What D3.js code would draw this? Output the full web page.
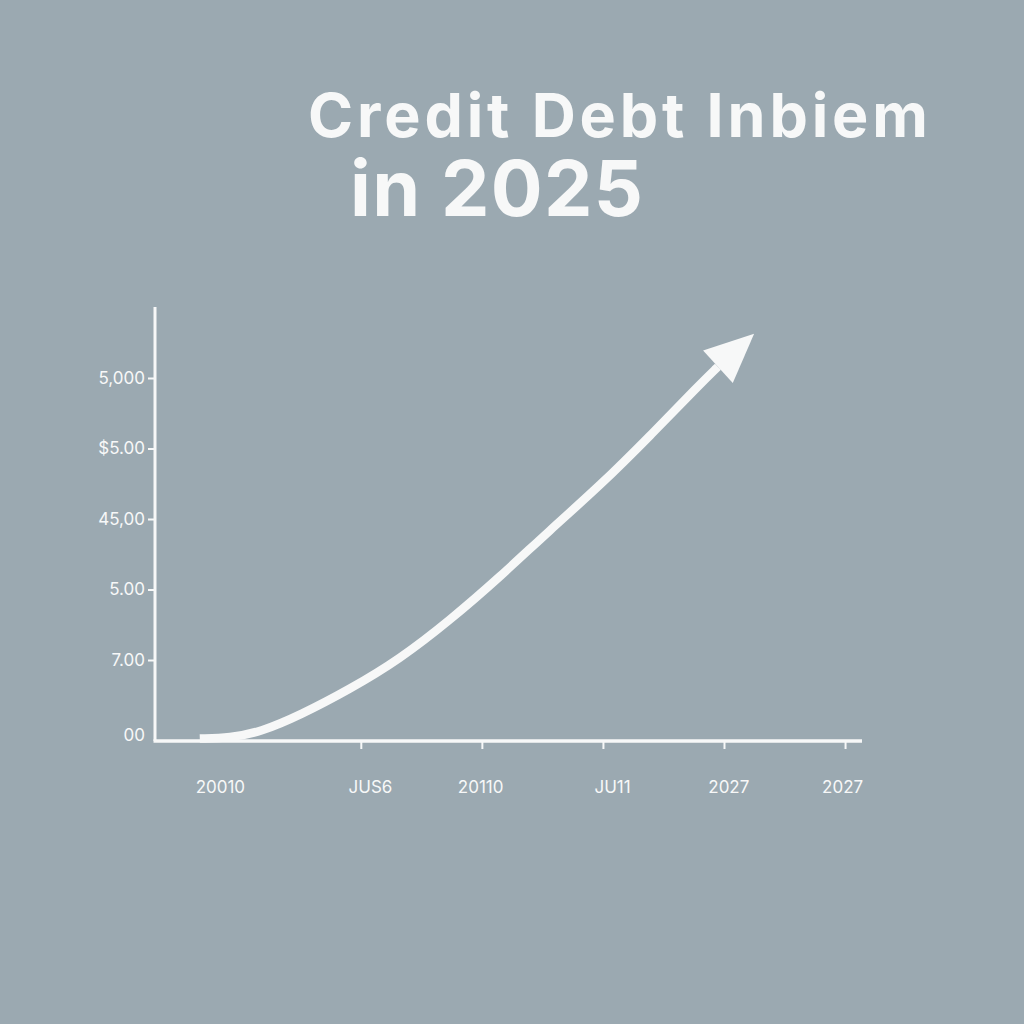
<!DOCTYPE html>
<html>
<head>
<meta charset="utf-8">
<script src="https://cdn.jsdelivr.net/npm/d3@7"></script>
<style>
  html, body { margin: 0; padding: 0; background: #9ba9b1; }
  svg { display: block; }
</style>
</head>
<body>
<svg id="chart" width="1024" height="1024"></svg>
<script>
// ---- data ----
const titleLines = ["Credit Debt Inbiem", "in 2025"];
const yTickValues = [0, 1, 2, 3, 4, 5];
const yTickLabels = ["00", "7.00", "5.00", "45,00", "$5.00", "5,000"];
const xTickValues = [1.7, 2.7, 3.7, 4.7, 5.7];
const xLabelValues = [0.54, 1.78, 2.69, 3.78, 4.74, 5.68];
const xLabels = ["20010", "JUS6", "20110", "JU11", "2027", "2027"];
const curveX = [0.37, 0.62, 0.87, 1.20, 1.61, 2.02, 2.44, 2.85, 3.26, 3.68, 4.09, 4.50, 4.65];
const curveY = [0.03, 0.04, 0.11, 0.32, 0.64, 1.01, 1.57, 2.18, 2.84, 3.48, 4.18, 4.91, 5.16];

// ---- layout ----
const svg = d3.select("#chart");
const W = 1024, H = 1024;
svg.append("rect").attr("width", W).attr("height", H).attr("fill", "#9ba9b1");

const axisLeftX = 155, axisBottomY = 741, axisRightX = 862, axisTopY = 307;
const x = d3.scaleLinear().domain([0, 5.84]).range([axisLeftX, axisRightX]);
const y = d3.scaleLinear().domain([0, 1, 5]).range([741, 660, 378]);
const white = "#f7f8f8";
const labelFont = "Inter, 'Open Sans', sans-serif";

// title
const t1 = svg.append("text").text(titleLines[0])
  .attr("x", 308).attr("y", 137)
  .attr("font-family", labelFont).attr("font-weight", 700)
  .attr("font-size", 61).attr("fill", white);
const t2 = svg.append("text").text(titleLines[1])
  .attr("x", 350).attr("y", 216)
  .attr("font-family", labelFont).attr("font-weight", 700)
  .attr("font-size", 77).attr("fill", white);
function fitSpacing(sel, target) {
  const w = sel.node().getComputedTextLength();
  const n = sel.text().length;
  sel.attr("letter-spacing", (target - w) / (n - 1));
}
fitSpacing(t1, 620);
fitSpacing(t2, 293);

// y axis (ticks + labels)
const yAxis = d3.axisLeft(y)
  .tickValues(yTickValues)
  .tickFormat((d, i) => yTickLabels[i])
  .tickSize(7).tickPadding(3);
const gy = svg.append("g").attr("transform", `translate(${axisLeftX},0)`).call(yAxis);
gy.select(".domain").remove();
gy.selectAll(".tick line").attr("stroke", white).attr("stroke-width", 2)
  .filter(d => d === 0).remove();
gy.selectAll(".tick text")
  .attr("fill", white).attr("font-family", labelFont).attr("font-size", 17)
  .attr("dy", (d) => d === 0 ? "-0.05em" : "0.32em");

// x axis (ticks)
const xAxis = d3.axisBottom(x).tickValues(xTickValues).tickFormat("").tickSize(8);
const gx = svg.append("g").attr("transform", `translate(0,${axisBottomY})`).call(xAxis);
gx.select(".domain").remove();
gx.selectAll(".tick line").attr("stroke", white).attr("stroke-width", 2);

// x labels
svg.append("g").selectAll("text").data(xLabels).join("text")
  .attr("x", (d, i) => x(xLabelValues[i]))
  .attr("y", 793)
  .attr("text-anchor", "middle")
  .attr("font-family", labelFont).attr("font-size", 17)
  .attr("fill", white)
  .text(d => d);

// axis lines
svg.append("line").attr("x1", axisLeftX).attr("x2", axisLeftX)
  .attr("y1", axisTopY).attr("y2", axisBottomY)
  .attr("stroke", white).attr("stroke-width", 3);
svg.append("line").attr("x1", axisLeftX - 1.5).attr("x2", axisRightX)
  .attr("y1", axisBottomY).attr("y2", axisBottomY)
  .attr("stroke", white).attr("stroke-width", 3.5);

// curve
const pts = curveX.map((v, i) => [x(v), y(curveY[i])]);
const line = d3.line().curve(d3.curveBasis);
svg.append("path").attr("d", line(pts))
  .attr("fill", "none").attr("stroke", white)
  .attr("stroke-width", 8.5).attr("stroke-linecap", "butt");

// arrowhead at end of curve
const [xa, ya] = pts[pts.length - 2];
const [xb, yb] = pts[pts.length - 1];
const ang = Math.atan2(yb - ya, xb - xa) + 0.03;
const len = 49, half = 22;
const ux = Math.cos(ang), uy = Math.sin(ang);
const tip = [xb + ux * len, yb + uy * len];
const w1 = [xb - uy * half, yb + ux * half];
const w2 = [xb + uy * half, yb - ux * half];
svg.append("path")
  .attr("d", `M${tip}L${w1}L${w2}Z`)
  .attr("fill", white);
</script>
</body>
</html>
